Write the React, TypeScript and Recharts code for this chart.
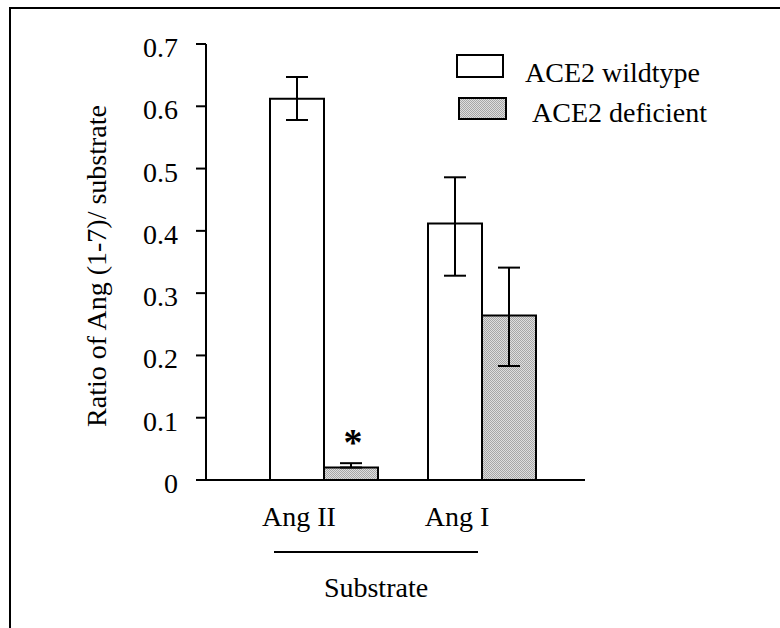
import { BarChart, Bar, XAxis, YAxis, ErrorBar, LabelList } from 'recharts'

const categories = ['Ang II', 'Ang I']
const seriesNames = ['ACE2 wildtype', 'ACE2 deficient']
const wildtype = [0.612, 0.412]
const wildtypeErr = [[0.034, 0.035], [0.084, 0.074]]
const deficient = [0.02, 0.264]
const deficientErr = [[0, 0.007], [0.081, 0.077]]
const markers = ['*', '']
const yTicks = [0, 0.1, 0.2, 0.3, 0.4, 0.5, 0.6, 0.7]

const FONT = 'Liberation Serif, Times New Roman, Tinos, DejaVu Serif, serif'

const data = categories.map((name, i) => ({
  name,
  wildtype: wildtype[i],
  wildtypeErr: wildtypeErr[i],
  deficient: deficient[i],
  deficientErr: deficientErr[i],
  marker: markers[i],
}))

const txt = { fontSize: 28, fontFamily: FONT, fill: '#000' }

const CategoryTick = ({ x, y, payload }: any) => (
  <text x={x - 25} y={y + 46} textAnchor="middle" style={txt}>
    {payload.value}
  </text>
)

const SubstrateLabel = ({ viewBox }: any) => {
  const { x, y } = viewBox
  return (
    <g>
      <line x1={x + 68} x2={x + 272} y1={y + 72} y2={y + 72} stroke="#000" strokeWidth={2} />
      <text x={x + 170} y={y + 117} textAnchor="middle" style={txt}>
        Substrate
      </text>
    </g>
  )
}

const RatioLabel = () => (
  <text x={106} y={266} transform="rotate(-90, 106, 266)" textAnchor="middle" style={txt}>
    Ratio of Ang (1-7)/ substrate
  </text>
)

// significance mark over the deficient bar
const Asterisk = ({ x, y, width, value }: any) =>
  value ? (
    <text x={x + width / 2 + 2} y={y - 13} textAnchor="middle" style={{ ...txt, fontSize: 38, fontWeight: 'bold' }}>
      {value}
    </text>
  ) : null

const Dots = ({ id }: { id: string }) => (
  <pattern id={id} width={2} height={2} patternUnits="userSpaceOnUse">
    <rect width={2} height={2} fill="#dedede" />
    <rect width={1} height={1} fill="#a6a6a6" />
    <rect x={1} y={1} width={1} height={1} fill="#a6a6a6" />
  </pattern>
)

const LegendBox = () => (
  <svg width={320} height={90} style={{ position: 'absolute', left: 449, top: 49 }}>
    <defs>
      <Dots id="legendDots" />
    </defs>
    <rect x={8} y={6} width={46} height={22} fill="#fff" stroke="#000" strokeWidth={2} />
    <text x={76} y={33} style={txt}>{seriesNames[0]}</text>
    <rect x={10} y={49} width={47} height={21} fill="url(#legendDots)" stroke="#000" strokeWidth={2} />
    <text x={83} y={73} style={txt}>{seriesNames[1]}</text>
  </svg>
)

export default function App() {
  return (
    <div style={{ position: 'absolute', left: 0, top: 0, width: 780, height: 628, overflow: 'hidden', background: '#fff' }}>
      <div
        style={{
          position: 'absolute',
          left: 9,
          top: 7,
          width: 900,
          height: 900,
          borderLeft: '2px solid #000',
          borderTop: '2px solid #000',
        }}
      />
      <BarChart
        width={780}
        height={628}
        data={data}
        margin={{ top: 44, right: 195, bottom: 28, left: 86 }}
        barGap={0}
        barSize={54}
        style={{ position: 'absolute', left: 0, top: 0, fontFamily: FONT }}
      >
        <defs>
          <Dots id="dots" />
        </defs>
        <XAxis
          dataKey="name"
          height={120}
          padding={{ left: 39, right: 24 }}
          axisLine={{ stroke: '#000', strokeWidth: 2 }}
          tickLine={false}
          tickSize={0}
          tickMargin={0}
          tick={<CategoryTick />}
          label={<SubstrateLabel />}
        />
        <YAxis
          width={120}
          domain={[0, 0.7]}
          ticks={yTicks}
          interval={0}
          allowDataOverflow
          axisLine={{ stroke: '#000', strokeWidth: 2 }}
          tickLine={{ stroke: '#000', strokeWidth: 2 }}
          tickSize={10}
          tickMargin={18}
          tick={{ fontSize: 28, fill: '#000', fontFamily: FONT, dy: 3, style: { fontFamily: FONT } }}
          label={<RatioLabel />}
        />
        <Bar dataKey="wildtype" name={seriesNames[0]} fill="#fff" stroke="#000" strokeWidth={2} isAnimationActive={false}>
          <ErrorBar dataKey="wildtypeErr" width={11} stroke="#000" strokeWidth={2} isAnimationActive={false} />
        </Bar>
        <Bar dataKey="deficient" name={seriesNames[1]} fill="url(#dots)" stroke="#000" strokeWidth={2} isAnimationActive={false}>
          <ErrorBar dataKey="deficientErr" width={11} stroke="#000" strokeWidth={2} isAnimationActive={false} />
          <LabelList dataKey="marker" content={<Asterisk />} />
        </Bar>
      </BarChart>
      <LegendBox />
    </div>
  )
}
